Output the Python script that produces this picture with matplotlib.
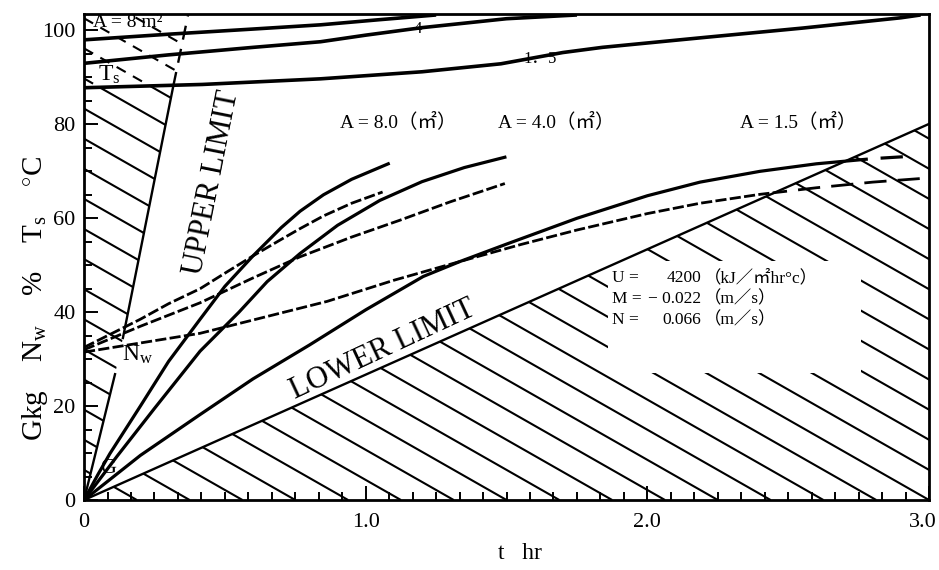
import matplotlib
matplotlib.use("Agg")
import matplotlib.pyplot as plt
import matplotlib.transforms as mtransforms
from matplotlib.patches import Polygon, Rectangle
from matplotlib.collections import LineCollection
from matplotlib.ticker import MultipleLocator

plt.rcParams['font.family'] = ['Liberation Serif', 'Noto Sans CJK JP', 'DejaVu Sans']
plt.rcParams['mathtext.fontset'] = 'custom'
plt.rcParams['mathtext.rm'] = 'Liberation Serif'
plt.rcParams['mathtext.it'] = 'Liberation Serif:italic'

# ---- data (t in hr) ----
# G (kg)
g8_t = [0, 0.05, 0.092, 0.2, 0.3, 0.412, 0.5, 0.6, 0.7, 0.767, 0.85, 0.95, 1.08]
g8_y = [0, 5.5, 9.9, 20.0, 29.5, 38.5, 45.5, 52.0, 58.0, 61.5, 65.0, 68.3, 71.6]
g4_t = [0, 0.117, 0.25, 0.412, 0.55, 0.65, 0.767, 0.9, 1.05, 1.2, 1.35, 1.494]
g4_y = [0, 9.3, 19.5, 31.7, 40.0, 46.5, 52.5, 58.5, 63.8, 67.8, 70.8, 73.0]
g15_t = [0, 0.2, 0.412, 0.6, 0.8, 1.0, 1.204, 1.335, 1.5, 1.75, 2.0, 2.187, 2.4, 2.6, 2.8, 2.907]
g15_y = [0, 9.5, 18.2, 25.8, 33.0, 40.5, 47.6, 50.8, 54.5, 60.0, 64.8, 67.7, 70.0, 71.6, 72.7, 73.1]

# Nw (%)
nw8_t = [0, 0.1, 0.2, 0.3, 0.412, 0.5, 0.6, 0.7, 0.767, 0.85, 0.95, 1.06]
nw8_y = [32.5, 35.5, 38.5, 41.8, 45.0, 48.3, 52.0, 55.5, 57.8, 60.5, 63.2, 65.6]
nw4_t = [0, 0.2, 0.412, 0.6, 0.767, 0.95, 1.122, 1.3, 1.494]
nw4_y = [32.0, 37.0, 42.0, 47.3, 51.8, 56.0, 59.6, 63.5, 67.4]
nw15_t = [0, 0.412, 0.863, 1.1, 1.335, 1.55, 1.75, 2.0, 2.187, 2.4, 2.6, 2.8, 3.0]
nw15_y = [31.5, 35.5, 42.3, 46.8, 50.8, 54.4, 57.5, 61.0, 63.2, 65.1, 66.5, 67.7, 68.6]

# Ts (deg C)
ts8_t = [0, 0.3, 0.6, 0.84, 1.05, 1.25]
ts8_y = [98.0, 99.2, 100.3, 101.2, 102.3, 103.3]
ts4_t = [0, 0.3, 0.6, 0.84, 1.0, 1.2, 1.5, 1.75]
ts4_y = [93.0, 94.8, 96.4, 97.6, 99.0, 100.6, 102.5, 103.3]
ts15_t = [0, 0.42, 0.84, 1.2, 1.48, 1.7, 1.84, 2.2, 2.55, 2.9, 2.97]
ts15_y = [87.8, 88.5, 89.7, 91.2, 92.9, 95.3, 96.4, 98.5, 100.5, 102.7, 103.3]

# limits
lower_t = [0, 3.0]
lower_y = [0, 80.1]
guide_t = [0, 0.11]
guide_y = [0, 26.8]
upper_t = [0.138, 0.317]
upper_y = [34.5, 88.2]
upper_dash_t = [0.317, 0.37]
upper_dash_y = [88.2, 103.5]

HATCH_SLOPE = 34.2
HATCH_STEP = 0.1875
YMAX = 103.5

fig = plt.figure(figsize=(9.39, 5.70), dpi=100)
ax = fig.add_axes([0.0895, 0.1228, 0.8999, 0.8526])
ax.set_xlim(0, 3.0)
ax.set_ylim(0, YMAX)

# ---- clip regions ----
low_poly = Polygon([(lower_t[0], lower_y[0]), (3.0, 0), (lower_t[1], lower_y[1])],
                   closed=True, transform=ax.transData)
above_low = Polygon([(lower_t[0], lower_y[0]), (lower_t[1], lower_y[1]), (3.0, YMAX), (0, YMAX)],
                    closed=True, transform=ax.transData)
left_solid = Polygon([(0, 0), (guide_t[1], guide_y[1]), (upper_t[0], upper_y[0]),
                      (upper_t[1], upper_y[1]), (0, ts15_y[0])],
                     closed=True, transform=ax.transData)
left_dash = Polygon([(0, ts15_y[0]), (upper_dash_t[0], upper_dash_y[0]),
                     (upper_dash_t[1], upper_dash_y[1]), (0, YMAX)],
                    closed=True, transform=ax.transData)

# hatch family
segs = []
for k in range(1, 31):
    t0 = k * HATCH_STEP
    segs.append([(0, HATCH_SLOPE * t0), (t0, 0)])

for clip, ls in [(low_poly, 'solid'), (left_solid, 'solid'), (left_dash, (0, (5, 4)))]:
    lc = LineCollection(segs, colors='black', linewidths=1.5, linestyles=ls, zorder=1.5)
    lc.set_clip_path(clip)
    ax.add_collection(lc)

# blank area behind the parameter text
ax.add_patch(Rectangle((1.86, 27.0), 0.9, 24, facecolor='white', edgecolor='none', zorder=2))

# limit lines
ax.plot(lower_t, lower_y, color='black', lw=1.7, zorder=3)
ax.plot(guide_t, guide_y, color='black', lw=1.7, zorder=3)
ax.plot(upper_t, upper_y, color='black', lw=1.7, zorder=3)
ax.plot(upper_dash_t, upper_dash_y, color='black', lw=1.7, ls=(0, (6, 4)), zorder=3)

# Ts curves
for tt, yy in [(ts8_t, ts8_y), (ts4_t, ts4_y), (ts15_t, ts15_y)]:
    ax.plot(tt, yy, color='black', lw=2.6, zorder=4, solid_capstyle='butt')

# G curves
ax.plot(g8_t, g8_y, color='black', lw=2.3, zorder=4)
ax.plot(g4_t, g4_y, color='black', lw=2.3, zorder=4)
l1, = ax.plot(g15_t, g15_y, color='black', lw=2.3, zorder=4)
l1.set_clip_path(above_low)
l2, = ax.plot(g15_t, g15_y, color='black', lw=2.3, ls=(0, (8, 4)), zorder=4)
l2.set_clip_path(low_poly)

# Nw curves
nw_ls = (0, (4, 1.2))
ax.plot(nw8_t, nw8_y, color='black', lw=2.0, ls=nw_ls, zorder=4)
ax.plot(nw4_t, nw4_y, color='black', lw=2.0, ls=nw_ls, zorder=4)
l3, = ax.plot(nw15_t, nw15_y, color='black', lw=2.0, ls=nw_ls, zorder=4)
l3.set_clip_path(above_low)
l4, = ax.plot(nw15_t, nw15_y, color='black', lw=2.0, ls=(0, (8, 4)), zorder=4)
l4.set_clip_path(low_poly)

# ---- text ----
ax.text(0.156, 101.8, "A = 8 m²", ha='center', va='center', fontsize=14, zorder=5)
ax.text(1.186, 100.4, "4", ha='center', va='center', fontsize=12, zorder=5)
ax.text(1.62, 94.0, "1．5", ha='center', va='center', fontsize=12, zorder=5)
ax.text(0.09, 90.6, r"T$_{\rm s}$", ha='center', va='center', fontsize=17, zorder=5)
ax.text(0.19, 31.0, r"N$_{\rm w}$", ha='center', va='center', fontsize=17, zorder=5)
ax.text(0.085, 6.8, "G", ha='center', va='center', fontsize=16, zorder=5)
for left, lab in [(0.909, "A = 8.0（㎡）"), (1.47, "A = 4.0（㎡）"), (2.33, "A = 1.5（㎡）")]:
    ax.text(left, 80.5, lab, ha='left', va='center', fontsize=14, zorder=5)
ax.text(0.454, 67.5, "UPPER LIMIT", ha='center', va='center', rotation=78.7, fontsize=22, zorder=5)
ax.text(1.06, 32.0, "LOWER LIMIT", ha='center', va='center', rotation=25, fontsize=22, zorder=5)

param_names = ["U =", "M =", "N ="]
param_vals = ["4200", "− 0.022", "0.066"]
param_units = ["（kJ／㎡hr°c）", "（m／s）", "（m／s）"]
for i, yy in enumerate([47.2, 42.8, 38.3]):
    ax.text(1.875, yy, param_names[i], ha='left', va='center', fontsize=12.5, zorder=5)
    ax.text(2.19, yy, param_vals[i], ha='right', va='center', fontsize=12.5, zorder=5)
    ax.text(2.20, yy, param_units[i], ha='left', va='center', fontsize=12.5, zorder=5)

# ---- axes ----
ax.set_xticks([0, 1, 2, 3])
ax.set_xticklabels(["0", "1.0", "2.0", "3.0"])
ax.xaxis.set_minor_locator(MultipleLocator(1 / 12))
ax.set_yticks([0, 20, 40, 60, 80, 100])
ax.yaxis.set_minor_locator(MultipleLocator(5))
ax.tick_params(which='both', direction='in', top=False, right=False, width=1.4, labelsize=16)
ax.tick_params(which='major', length=10, pad=6)
ax.tick_params(axis='x', which='major', pad=9)
ax.tick_params(which='minor', length=6)
for sp in ax.spines.values():
    sp.set_linewidth(2.0)

# last x label sits against the right edge
last = ax.get_xticklabels()[-1]
last.set_transform(last.get_transform() + mtransforms.ScaledTranslation(-6 / 100, 0, fig.dpi_scale_trans))

ax.set_xlabel("t   hr", fontsize=17)
ax.xaxis.set_label_coords(0.516, -0.088)
ax.set_ylabel(r"Gkg    N$_{\rm w}$    %    T$_{\rm s}$    $^{\circ}$C", fontsize=21)
ax.yaxis.set_label_coords(-0.040, 0.415)

fig.savefig("out.png", dpi=100)
